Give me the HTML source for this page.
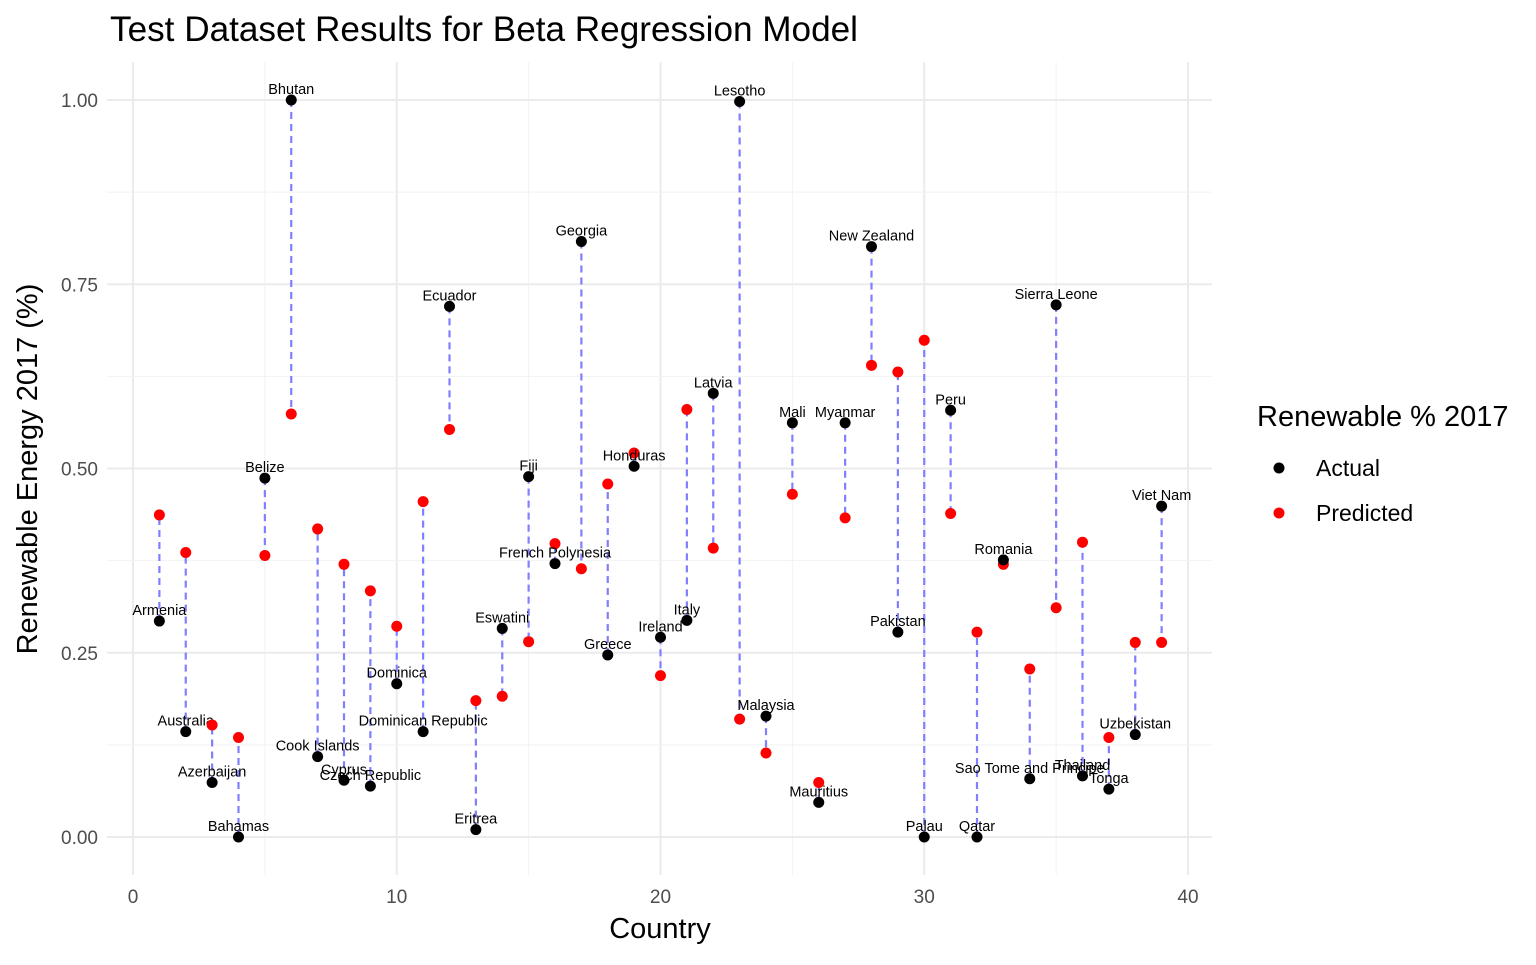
<!DOCTYPE html>
<html><head><meta charset="utf-8"><style>
body{margin:0;background:#fff;}
svg text{font-family:"Liberation Sans",sans-serif;}
</style></head><body>
<svg id="chart" width="1536" height="960" xmlns="http://www.w3.org/2000/svg">
<text x="110" y="41" font-size="35" textLength="748" lengthAdjust="spacingAndGlyphs" fill="#000">Test Dataset Results for Beta Regression Model</text>
<g id="grid"></g><g id="marks"></g><g id="axes"></g>
<text x="660" y="938" font-size="29" text-anchor="middle">Country</text>
<text transform="translate(37,469) rotate(-90)" font-size="29" text-anchor="middle">Renewable Energy 2017 (%)</text>
<g>
<text x="1257" y="426" font-size="29">Renewable % 2017</text>
<circle cx="1279" cy="468" r="5.5" fill="#000"/>
<text x="1316" y="476" font-size="23">Actual</text>
<circle cx="1279" cy="513" r="5.5" fill="#ff0000"/>
<text x="1316" y="521" font-size="23">Predicted</text>
</g>
</svg>
<script>
const countries=["Armenia","Australia","Azerbaijan","Bahamas","Belize","Bhutan","Cook Islands","Cyprus","Czech Republic","Dominica","Dominican Republic","Ecuador","Eritrea","Eswatini","Fiji","French Polynesia","Georgia","Greece","Honduras","Ireland","Italy","Latvia","Lesotho","Malaysia","Mali","Mauritius","Myanmar","New Zealand","Pakistan","Palau","Peru","Qatar","Romania","Sao Tome and Principe","Sierra Leone","Thailand","Tonga","Uzbekistan","Viet Nam"];
const actual=[0.293,0.143,0.074,0.0,0.487,1.0,0.109,0.077,0.069,0.208,0.143,0.720,0.010,0.283,0.489,0.371,0.808,0.247,0.503,0.271,0.294,0.602,0.998,0.164,0.562,0.047,0.562,0.801,0.278,0.0,0.579,0.0,0.376,0.079,0.722,0.083,0.065,0.139,0.449];
const predicted=[0.437,0.386,0.152,0.135,0.382,0.574,0.418,0.370,0.334,0.286,0.455,0.553,0.185,0.191,0.265,0.398,0.364,0.479,0.521,0.219,0.580,0.392,0.160,0.114,0.465,0.074,0.433,0.640,0.631,0.674,0.439,0.278,0.370,0.228,0.311,0.400,0.135,0.264,0.264];
const xTicks=[0,10,20,30,40];
const yTicks=[0,0.25,0.5,0.75,1.0];
const yTickLabels=["0.00","0.25","0.50","0.75","1.00"];
const NS="http://www.w3.org/2000/svg";
const X=v=>133+v*(1188-133)/40;
const Y=v=>837-v*737;
const L=107,R=1212,T=62,B=875;
function mk(tag,attrs,parent,txt){const e=document.createElementNS(NS,tag);for(const k in attrs)e.setAttribute(k,attrs[k]);if(txt!==undefined)e.textContent=txt;parent.appendChild(e);return e;}
const grid=document.getElementById('grid'),marks=document.getElementById('marks'),axes=document.getElementById('axes');
for(let i=0;i<xTicks.length;i++){
 const g=mk('line',{x1:X(xTicks[i]),x2:X(xTicks[i]),y1:T,y2:B,stroke:'#ebebeb','stroke-width':2},grid);
 
 
 if(i<xTicks.length-1){const m=(xTicks[i]+xTicks[i+1])/2;const gm=mk('line',{x1:X(m),x2:X(m),y1:T,y2:B,stroke:'#f2f2f2','stroke-width':1},grid);
 
 }
 const t=mk('text',{x:X(xTicks[i]),y:903,'font-size':19,fill:'#4d4d4d','text-anchor':'middle'},axes,String(xTicks[i]));
 
 
}
for(let i=0;i<yTicks.length;i++){
 const g=mk('line',{x1:L,x2:R,y1:Y(yTicks[i]),y2:Y(yTicks[i]),stroke:'#ebebeb','stroke-width':2},grid);
 
 
 if(i<yTicks.length-1){const m=(yTicks[i]+yTicks[i+1])/2;const gm=mk('line',{x1:L,x2:R,y1:Y(m),y2:Y(m),stroke:'#f2f2f2','stroke-width':1},grid);
 
 }
 const t=mk('text',{x:98,y:Y(yTicks[i])+7,'font-size':19,fill:'#4d4d4d','text-anchor':'end'},axes,yTickLabels[i]);
 
 
}
for(let i=0;i<countries.length;i++){
 const x=X(i+1);
 const ln=mk('line',{x1:x,x2:x,y1:Y(actual[i]),y2:Y(predicted[i]),stroke:'#7f7fff','stroke-width':2.2,'stroke-dasharray':'7,5'},marks);
 
 
}
for(let i=0;i<countries.length;i++){
 const x=X(i+1);
 const p=mk('circle',{cx:x,cy:Y(predicted[i]),r:5.5,fill:'#ff0000'},marks);
 
 
 const a=mk('circle',{cx:x,cy:Y(actual[i]),r:5.5,fill:'#000'},marks);
 
 
 const t=mk('text',{x:x,y:Y(actual[i])-6,'font-size':14.5,fill:'#000','text-anchor':'middle'},marks,countries[i]);
 
 
}
</script>
</body></html>
